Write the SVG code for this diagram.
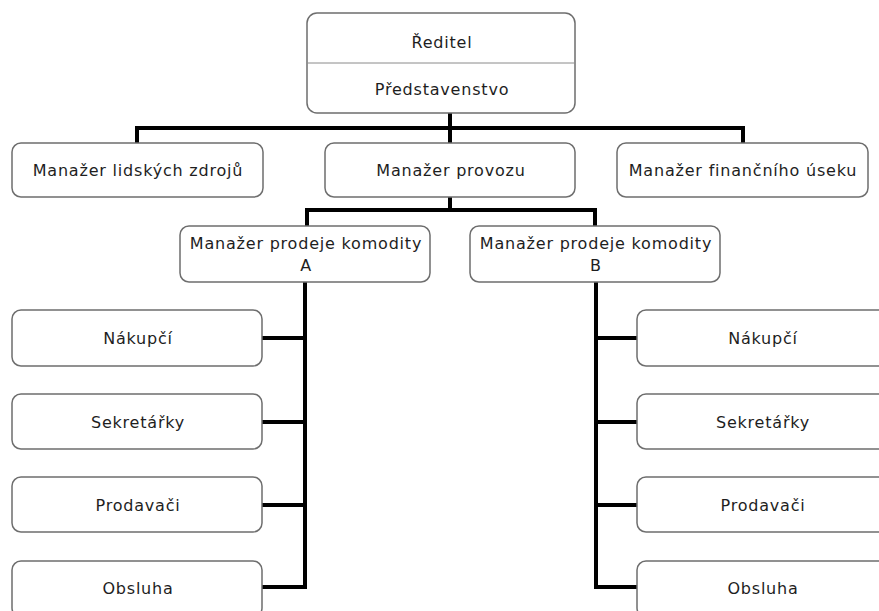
<svg xmlns="http://www.w3.org/2000/svg" width="879" height="611" viewBox="0 0 879 611">
  <style>
    .box { fill: #ffffff; stroke: #6e6e6e; stroke-width: 1.5; }
    .lbl { font-family: "DejaVu Sans", Verdana, sans-serif; font-size: 16px; letter-spacing: 0.8px; fill: #1e1e1e; text-anchor: middle; }
    .wire { fill: none; stroke: #000000; stroke-width: 4; stroke-linejoin: miter; stroke-linecap: square; }
    .sep { stroke: #8a8a8a; stroke-width: 1; }
  </style>
  <rect width="879" height="611" fill="#ffffff"/>

  <!-- connectors -->
  <g id="connectors">
    <path class="wire" d="M450 113 V128 M137 143 V128 H743 V143 M450 128 V143"/>
    <path class="wire" d="M450 197 V210 M307 226 V210 H595 V226"/>
    <path class="wire" d="M305 282 V587 M262 338 H305 M262 422 H305 M262 505 H305 M262 587 H305"/>
    <path class="wire" d="M596 282 V587 M596 338 H637 M596 422 H637 M596 505 H637 M596 587 H637"/>
  </g>

  <g id="reditel">
    <rect class="box" x="307" y="13" width="268" height="100" rx="10"/>
    <line class="sep" x1="307.5" y1="63" x2="574.5" y2="63"/>
    <text class="lbl" x="442" y="48">Ředitel</text>
    <text class="lbl" x="442" y="95">Představenstvo</text>
  </g>

  <g id="hr">
    <rect class="box" x="12" y="143" width="251" height="54" rx="9"/>
    <text class="lbl" x="138" y="176">Manažer lidských zdrojů</text>
  </g>
  <g id="provoz">
    <rect class="box" x="325" y="143" width="250" height="54" rx="9"/>
    <text class="lbl" x="451" y="176">Manažer provozu</text>
  </g>
  <g id="finance">
    <rect class="box" x="617" y="143" width="251" height="54" rx="9"/>
    <text class="lbl" x="743" y="176">Manažer finančního úseku</text>
  </g>

  <g id="komodita-a">
    <rect class="box" x="180" y="226" width="250" height="56" rx="9"/>
    <text class="lbl" x="306" y="249">Manažer prodeje komodity</text>
    <text class="lbl" x="306" y="271">A</text>
  </g>
  <g id="komodita-b">
    <rect class="box" x="470" y="226" width="250" height="56" rx="9"/>
    <text class="lbl" x="596" y="249">Manažer prodeje komodity</text>
    <text class="lbl" x="596" y="271">B</text>
  </g>

  <g id="a-nakupci">
    <rect class="box" x="12" y="310" width="250" height="56" rx="9"/>
    <text class="lbl" x="138" y="344">Nákupčí</text>
  </g>
  <g id="a-sekretarky">
    <rect class="box" x="12" y="394" width="250" height="55" rx="9"/>
    <text class="lbl" x="138" y="428">Sekretářky</text>
  </g>
  <g id="a-prodavaci">
    <rect class="box" x="12" y="477" width="250" height="55" rx="9"/>
    <text class="lbl" x="138" y="511">Prodavači</text>
  </g>
  <g id="a-obsluha">
    <rect class="box" x="12" y="561" width="250" height="56" rx="9"/>
    <text class="lbl" x="138" y="594">Obsluha</text>
  </g>

  <g id="b-nakupci">
    <rect class="box" x="637" y="310" width="250" height="56" rx="9"/>
    <text class="lbl" x="763" y="344">Nákupčí</text>
  </g>
  <g id="b-sekretarky">
    <rect class="box" x="637" y="394" width="250" height="55" rx="9"/>
    <text class="lbl" x="763" y="428">Sekretářky</text>
  </g>
  <g id="b-prodavaci">
    <rect class="box" x="637" y="477" width="250" height="55" rx="9"/>
    <text class="lbl" x="763" y="511">Prodavači</text>
  </g>
  <g id="b-obsluha">
    <rect class="box" x="637" y="561" width="250" height="56" rx="9"/>
    <text class="lbl" x="763" y="594">Obsluha</text>
  </g>
</svg>
